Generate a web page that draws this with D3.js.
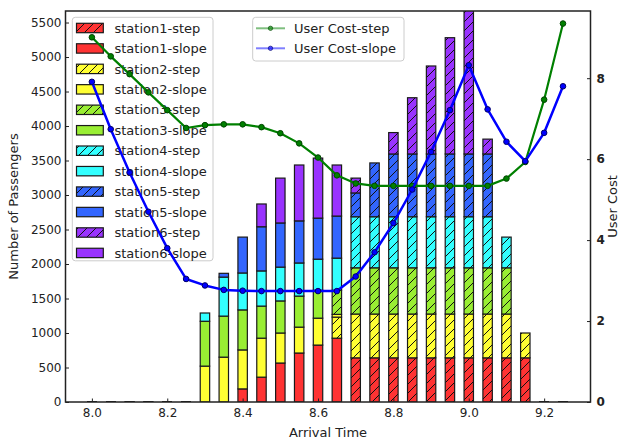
<!DOCTYPE html>
<html>
<head>
<meta charset="utf-8">
<script src="https://cdn.jsdelivr.net/npm/d3@7/dist/d3.min.js"></script>
<style>
  body { margin: 0; background: #fff; }
  svg { font-family: "DejaVu Sans", sans-serif; }
</style>
</head>
<body>
<svg id="chart" width="619" height="445"></svg>
<script>
// Arrival time slots (hours)
const arrivalTimes = [8.0, 8.05, 8.1, 8.15, 8.2, 8.25, 8.3, 8.35, 8.4, 8.45, 8.5, 8.55, 8.6,
                      8.65, 8.7, 8.75, 8.8, 8.85, 8.9, 8.95, 9.0, 9.05, 9.1, 9.15, 9.2, 9.25];

const stationNames = ["station1", "station2", "station3", "station4", "station5", "station6"];
const stationColors = ["#ff3333", "#ffff33", "#99ee33", "#33ffff", "#3366ff", "#9933ff"];

// Passengers per station and time slot, step pricing
const station1Step = [0,0,0,0,0,0,0,0,0,0,0,0,0,0, 640,640,640,640,640,640,640,640,640,640, 0,0];
const station2Step = [0,0,0,0,0,0,0,0,0,0,0,0,0, 305, 635,635,635,635,635,635,635,635,635, 360, 0,0];
const station3Step = [0,0,0,0,0,0,0,0,0,0,0,0,0, 350, 670,670,670,670,670,670,670,670,670, 0, 0,0];
const station4Step = [0,0,0,0,0,0,0,0,0,0,0,0,0,0, 740,740,740,740,740,740,740,740, 445, 0, 0,0];
const station5Step = [0,0,0,0,0,0,0,0,0,0,0,0,0,0, 345,780,910,910,910,910,910,910, 0,0, 0,0];
const station6Step = [0,0,0,0,0,0,0,0,0,0,0,0,0,0, 215,0,310,815,1275,1685,2100,215, 0,0, 0,0];

// Passengers per station and time slot, slope pricing
const station1Slope = [0,0,0,0,0,0, 0,0,190,360,565,710,825,925, 0,0,0,0,0,0,0,0,0,0,0,0];
const station2Slope = [0,0,0,0,0,0, 520,650,565,565,435,375,390,40, 0,0,0,0,0,0,0,0,0,0,0,0];
const station3Slope = [0,0,0,0,0,0, 650,595,580,465,465,450,405,0, 0,0,0,0,0,0,0,0,0,0,0,0];
const station4Slope = [0,0,0,0,0,0, 120,565,535,510,490,480,450,465, 0,0,0,0,0,0,0,0,0,0,0,0];
const station5Slope = [0,0,0,0,0,0, 0,55,520,640,640,610,595,610, 0,0,0,0,0,0,0,0,0,0,0,0];
const station6Slope = [0,0,0,0,0,0, 0,0,0,330,650,810,870,740, 0,0,0,0,0,0,0,0,0,0,0,0];

// Average user cost per arrival time
const userCostStep  = [9.01, 8.54, 8.10, 7.65, 7.21, 6.77, 6.84, 6.86, 6.86, 6.79, 6.64, 6.39, 6.04,
                       5.60, 5.40, 5.34, 5.34, 5.34, 5.34, 5.34, 5.34, 5.34, 5.52, 5.93, 7.47, 9.35];
const userCostSlope = [7.91, 6.74, 5.67, 4.70, 3.80, 3.04, 2.88, 2.77, 2.75, 2.74, 2.74, 2.74, 2.74,
                       2.74, 3.10, 3.70, 4.42, 5.25, 6.18, 7.21, 8.32, 7.23, 6.43, 5.95, 6.65, 7.80];

const timeTicks = [8.0, 8.2, 8.4, 8.6, 8.8, 9.0, 9.2];
const passengerTicks = [0, 500, 1000, 1500, 2000, 2500, 3000, 3500, 4000, 4500, 5000, 5500];
const costTicks = [0, 2, 4, 6, 8];

const stepSeries  = [station1Step, station2Step, station3Step, station4Step, station5Step, station6Step];
const slopeSeries = [station1Slope, station2Slope, station3Slope, station4Slope, station5Slope, station6Slope];

// ---- layout ----
const plot = { left: 65.5, right: 590.5, top: 11, bottom: 402 };
const barWidth = 0.025;

const svg = d3.select("#chart");

const x = d3.scaleLinear().domain([7.930, 9.323]).range([plot.left, plot.right]);
const yPass = d3.scaleLinear().domain([0, 5667]).range([plot.bottom, plot.top]);
const yCost = d3.scaleLinear().domain([0, 9.66]).range([plot.bottom, plot.top]);

const defs = svg.append("defs");
defs.append("clipPath").attr("id", "plot-clip")
  .append("rect")
  .attr("x", plot.left).attr("y", plot.top)
  .attr("width", plot.right - plot.left).attr("height", plot.bottom - plot.top);

// diagonal hatch patterns, one per station colour
const hs = 9;
stationColors.forEach((c, i) => {
  const p = defs.append("pattern")
    .attr("id", "hatch" + i)
    .attr("patternUnits", "userSpaceOnUse")
    .attr("width", hs).attr("height", hs);
  p.append("rect").attr("width", hs).attr("height", hs).attr("fill", c);
  p.append("path")
    .attr("d", `M-2,2 L2,-2 M0,${hs} L${hs},0 M${hs - 2},${hs + 2} L${hs + 2},${hs - 2}`)
    .attr("stroke", "#111").attr("stroke-width", 1);
});

// ---- stacked bars: station1 step, station1 slope, station2 step, ... ----
const layers = [];
stationNames.forEach((name, i) => {
  layers.push({ label: name + "-step", values: stepSeries[i], fill: "url(#hatch" + i + ")", color: stationColors[i] });
  layers.push({ label: name + "-slope", values: slopeSeries[i], fill: stationColors[i], color: stationColors[i] });
});

const bottoms = arrivalTimes.map(() => 0);
const barGroup = svg.append("g").attr("clip-path", "url(#plot-clip)");
layers.forEach(layer => {
  const g = barGroup.append("g");
  arrivalTimes.forEach((t, j) => {
    const v = layer.values[j];
    const b = bottoms[j];
    const x0 = x(t - barWidth / 2), x1 = x(t + barWidth / 2);
    if (v > 0) {
      g.append("rect")
        .attr("x", x0).attr("width", x1 - x0)
        .attr("y", yPass(b + v)).attr("height", yPass(b) - yPass(b + v))
        .attr("fill", layer.fill)
        .attr("stroke", "#1a1a1a").attr("stroke-width", 1.2);
    } else if (b === 0) {
      g.append("line")
        .attr("x1", x0).attr("x2", x1)
        .attr("y1", yPass(0)).attr("y2", yPass(0))
        .attr("stroke", "#1a1a1a").attr("stroke-width", 1.2);
    }
    bottoms[j] = b + v;
  });
});

// ---- bar legend ----
const leg1 = svg.append("g");
leg1.append("rect")
  .attr("x", 72.3).attr("y", 17.3).attr("width", 140.7).attr("height", 243.5)
  .attr("rx", 3).attr("fill", "#fff").attr("fill-opacity", 0.8)
  .attr("stroke", "#cccccc").attr("stroke-width", 1);
layers.forEach((layer, i) => {
  const cy = 28 + i * 20.45;
  leg1.append("rect")
    .attr("x", 76.5).attr("y", cy - 4.7).attr("width", 26.8).attr("height", 9.4)
    .attr("fill", layer.fill).attr("stroke", "#1a1a1a").attr("stroke-width", 1.2);
  leg1.append("text")
    .attr("x", 114.5).attr("y", cy).attr("dy", "0.36em")
    .attr("font-size", 13).attr("fill", "#222")
    .text(layer.label);
});

// ---- user cost lines (secondary axis) ----
const costLines = [
  { label: "User Cost-step", values: userCostStep, color: "#008000", edge: "#004400", width: 2.2 },
  { label: "User Cost-slope", values: userCostSlope, color: "#0000ff", edge: "#000066", width: 2.5 }
];
const lineGen = vals => d3.line()
  .x((d, j) => x(arrivalTimes[j]))
  .y(d => yCost(d))(vals);

const lineGroup = svg.append("g").attr("clip-path", "url(#plot-clip)");
costLines.forEach(s => {
  lineGroup.append("path")
    .attr("d", lineGen(s.values))
    .attr("fill", "none").attr("stroke", s.color)
    .attr("stroke-width", s.width).attr("stroke-linejoin", "round");
  lineGroup.selectAll(null).data(s.values).enter().append("circle")
    .attr("cx", (d, j) => x(arrivalTimes[j]))
    .attr("cy", d => yCost(d))
    .attr("r", 2.8)
    .attr("fill", s.color).attr("stroke", s.edge).attr("stroke-width", 1);
});

// ---- axes ----
const axisLeft = d3.axisLeft(yPass).tickValues(passengerTicks).tickFormat(d3.format("d"))
  .tickSizeInner(-3.5).tickSizeOuter(0).tickPadding(4);
const axisBottom = d3.axisBottom(x).tickValues(timeTicks).tickFormat(d3.format(".1f"))
  .tickSizeInner(-3.5).tickSizeOuter(0).tickPadding(6);
const axisRight = d3.axisRight(yCost).tickValues(costTicks).tickFormat(d3.format("d"))
  .tickSizeInner(-3.5).tickSizeOuter(0).tickPadding(6);

function styleAxis(g, bold) {
  g.select(".domain").remove();
  g.selectAll(".tick line").attr("stroke", "#222").attr("stroke-width", 1);
  g.selectAll(".tick text").attr("font-size", 12).attr("fill", "#222")
    .attr("font-family", "DejaVu Sans, sans-serif")
    .attr("font-weight", bold ? "bold" : "normal");
}

svg.append("g").attr("transform", `translate(${plot.left},0)`).call(axisLeft).call(g => styleAxis(g, false));
svg.append("g").attr("transform", `translate(0,${plot.bottom})`).call(axisBottom).call(g => styleAxis(g, false));
svg.append("g").attr("transform", `translate(${plot.right},0)`).call(axisRight).call(g => styleAxis(g, true));

// frame
svg.append("rect")
  .attr("x", plot.left).attr("y", plot.top)
  .attr("width", plot.right - plot.left).attr("height", plot.bottom - plot.top)
  .attr("fill", "none").attr("stroke", "#222").attr("stroke-width", 1.5);

// axis titles
svg.append("text")
  .attr("transform", `translate(13,${(plot.top + plot.bottom) / 2}) rotate(-90)`)
  .attr("text-anchor", "middle").attr("dy", "0.35em")
  .attr("font-size", 13).attr("fill", "#222")
  .text("Number of Passengers");
svg.append("text")
  .attr("x", (plot.left + plot.right) / 2).attr("y", 432).attr("dy", "0.35em")
  .attr("text-anchor", "middle")
  .attr("font-size", 13).attr("fill", "#222")
  .text("Arrival Time");
svg.append("text")
  .attr("transform", `translate(612,${(plot.top + plot.bottom) / 2}) rotate(-90)`)
  .attr("text-anchor", "middle").attr("dy", "0.35em")
  .attr("font-size", 13).attr("fill", "#222")
  .text("User Cost");

// ---- cost legend ----
const leg2 = svg.append("g");
leg2.append("rect")
  .attr("x", 252.7).attr("y", 17.3).attr("width", 151.3).attr("height", 43.7)
  .attr("rx", 3).attr("fill", "#fff").attr("fill-opacity", 0.8)
  .attr("stroke", "#cccccc").attr("stroke-width", 1);
costLines.forEach((s, i) => {
  const cy = 28.3 + i * 20;
  leg2.append("line")
    .attr("x1", 256).attr("x2", 285).attr("y1", cy).attr("y2", cy)
    .attr("stroke", s.color).attr("stroke-opacity", 0.5).attr("stroke-width", 2);
  leg2.append("circle")
    .attr("cx", 270.5).attr("cy", cy).attr("r", 2.2)
    .attr("fill", s.color).attr("fill-opacity", 0.6)
    .attr("stroke", s.edge).attr("stroke-opacity", 0.6);
  leg2.append("text")
    .attr("x", 294).attr("y", cy).attr("dy", "0.36em")
    .attr("font-size", 13).attr("fill", "#222")
    .text(s.label);
});
</script>
</body>
</html>
